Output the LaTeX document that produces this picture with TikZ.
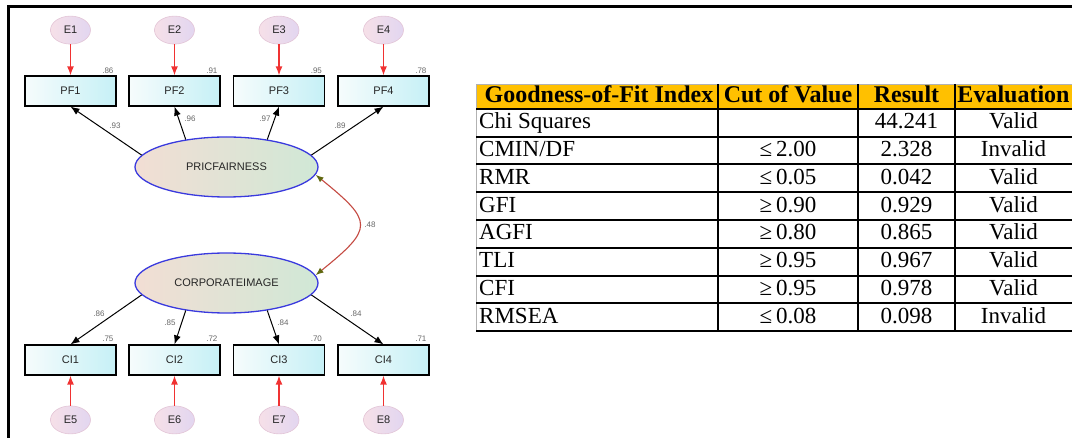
\documentclass[tikz,border=0pt]{standalone}
\usepackage{fontspec}
\usepackage{xcolor}
\usepackage{tikz}
\usetikzlibrary{shapes.geometric, arrows.meta, positioning}
\newfontfamily\semfont{Liberation Sans}
\newfontfamily\tabfont{Liberation Serif}
\definecolor{errleft}{RGB}{246,224,232}
\definecolor{errright}{RGB}{226,214,240}
\definecolor{errline}{RGB}{226,196,214}
\definecolor{obsleft}{RGB}{246,252,252}
\definecolor{obsright}{RGB}{198,240,246}
\definecolor{latleft}{RGB}{242,222,212}
\definecolor{latright}{RGB}{208,232,214}
\definecolor{latline}{RGB}{58,58,222}
\definecolor{errred}{RGB}{240,50,50}
\definecolor{covred}{RGB}{196,74,66}
\definecolor{covtip}{RGB}{96,104,16}
\definecolor{headfill}{RGB}{255,192,0}
\tikzset{
    errvar/.style={
        ellipse,
        draw=errline,
        line width=0.6pt,
        left color=errleft,
        right color=errright,
        minimum width=40pt,
        minimum height=28pt,
        inner sep=0pt,
        text=black!85,
        font=\semfont\fontsize{11}{13}\selectfont
    },
    observed/.style={
        rectangle,
        draw=black,
        line width=1.2pt,
        left color=obsleft,
        right color=obsright,
        minimum width=91pt,
        minimum height=30pt,
        inner sep=0pt,
        text=black!85,
        font=\semfont\fontsize{11}{13}\selectfont
    },
    latent/.style={
        ellipse,
        draw=latline,
        line width=1.3pt,
        left color=latleft,
        right color=latright,
        minimum width=183pt,
        minimum height=60pt,
        inner sep=0pt,
        text=black!85,
        font=\semfont\fontsize{11}{13}\selectfont
    },
    loading/.style={
        draw=black,
        line width=1pt,
        -{Latex[length=9pt,width=7pt]}
    },
    errpath/.style={
        draw=errred,
        line width=1.4pt,
        -{Latex[length=9pt,width=7pt]}
    },
    covpath/.style={
        draw=covred,
        line width=1.1pt,
        {Latex[length=8pt,width=6pt,color=covtip]}-{Latex[length=8pt,width=6pt,color=covtip]}
    },
    coef/.style={
        inner sep=0pt,
        text=black!60,
        font=\semfont\fontsize{8}{9}\selectfont
    },
    tabhead/.style={
        inner sep=0pt,
        anchor=base,
        font=\tabfont\bfseries\fontsize{24}{26}\selectfont
    },
    tabcell/.style={
        inner sep=0pt,
        anchor=base,
        font=\tabfont\fontsize{23}{26}\selectfont
    },
    gridline/.style={
        draw=black,
        line width=2pt
    }
}
\begin{document}
\begin{tikzpicture}[x=1pt, y=-1pt]
\useasboundingbox (0,0) rectangle (1072,438);

% Frame
\draw[line width=3pt] (8.5,438) -- (8.5,7) -- (1072,7);

% Price fairness indicators
\node[observed] (pf1) at (70.5,91) {PF1};
\node[observed] (pf2) at (174.5,91) {PF2};
\node[observed] (pf3) at (279,91) {PF3};
\node[observed] (pf4) at (383.5,91) {PF4};

\node[errvar, above=31pt of pf1] (e1) {E1};
\node[errvar, above=31pt of pf2] (e2) {E2};
\node[errvar, above=31pt of pf3] (e3) {E3};
\node[errvar, above=31pt of pf4] (e4) {E4};

\draw[errpath] (e1) -- (pf1);
\draw[errpath] (e2) -- (pf2);
\draw[errpath] (e3) -- (pf3);
\draw[errpath] (e4) -- (pf4);

\node[coef, above left=2pt and 3pt of pf1.north east] (rpf1) {.86};
\node[coef, above left=2pt and 3pt of pf2.north east] (rpf2) {.91};
\node[coef, above left=2pt and 3pt of pf3.north east] (rpf3) {.95};
\node[coef, above left=2pt and 3pt of pf4.north east] (rpf4) {.78};

% Latent variables
\node[latent] (pf) at (226.5,167) {PRICFAIRNESS};
\node[latent] (ci) at (226.5,283) {CORPORATEIMAGE};

\draw[loading] (pf.172) -- (pf1.south);
\draw[loading] (pf.146) -- (pf2.south);
\draw[loading] (pf.34) -- (pf3.south);
\draw[loading] (pf.8) -- (pf4.south);

\node[coef] (lpf1) at (115,126) {.93};
\node[coef] (lpf2) at (190,119) {.96};
\node[coef] (lpf3) at (265,119) {.97};
\node[coef] (lpf4) at (340,126) {.89};

% Covariance
\draw[covpath] (pf.355) .. controls +(58,47) and +(58,-47) .. (ci.5);
\node[coef] (cov) at (370,225) {.48};

% Corporate image indicators
\node[observed] (ci1) at (70.5,360) {CI1};
\node[observed] (ci2) at (174.5,360) {CI2};
\node[observed] (ci3) at (279,360) {CI3};
\node[observed] (ci4) at (383.5,360) {CI4};

\draw[loading] (ci.188) -- (ci1.north);
\draw[loading] (ci.214) -- (ci2.north);
\draw[loading] (ci.326) -- (ci3.north);
\draw[loading] (ci.352) -- (ci4.north);

\node[coef] (lci1) at (99,314) {.86};
\node[coef] (lci2) at (170,323) {.85};
\node[coef] (lci3) at (283,323) {.84};
\node[coef] (lci4) at (356,314) {.84};

\node[coef, above left=3pt and 3pt of ci1.north east] (rci1) {.75};
\node[coef, above left=3pt and 3pt of ci2.north east] (rci2) {.72};
\node[coef, above left=3pt and 3pt of ci3.north east] (rci3) {.70};
\node[coef, above left=3pt and 3pt of ci4.north east] (rci4) {.71};

\node[errvar, below=30pt of ci1] (e5) {E5};
\node[errvar, below=30pt of ci2] (e6) {E6};
\node[errvar, below=30pt of ci3] (e7) {E7};
\node[errvar, below=30pt of ci4] (e8) {E8};

\draw[errpath] (e5) -- (ci1);
\draw[errpath] (e6) -- (ci2);
\draw[errpath] (e7) -- (ci3);
\draw[errpath] (e8) -- (ci4);

% Fit table grid
\fill[headfill] (476,84) rectangle (1072,109);
\draw[draw=black!30, line width=0.8pt] (476,331.1) -- (476,84) -- (1072,84);
\draw[gridline, line width=2.6pt] (476,109) -- (1072,109);
\draw[gridline] (476,136.8) -- (1072,136.8) (476,164.5) -- (1072,164.5)
    (476,192.3) -- (1072,192.3) (476,220.0) -- (1072,220.0)
    (476,247.8) -- (1072,247.8) (476,275.6) -- (1072,275.6)
    (476,303.3) -- (1072,303.3) (476,331.1) -- (1072,331.1);
\draw[gridline, line width=2.6pt] (718,84) -- (718,331.1) (858,84) -- (858,331.1)
    (955,84) -- (955,331.1);

% Header
\node[tabhead] (h1) at (599,103) {Goodness-of-Fit Index};
\node[tabhead] (h2) at (788,103) {Cut of Value};
\node[tabhead] (h3) at (906.5,103) {Result};
\node[tabhead] (h4) at (1013.5,103) {Evaluation};

% Rows
\node[tabcell, anchor=base west] (r1c1) at (479,129) {Chi Squares};
\node[tabcell] (r1c3) at (906.5,129) {44.241};
\node[tabcell] (r1c4) at (1013.5,129) {Valid};

\node[tabcell, anchor=base west] (r2c1) at (479,156.7) {CMIN/DF};
\node[tabcell] (r2c2) at (788,156.7) {≤\,2.00};
\node[tabcell] (r2c3) at (906.5,156.7) {2.328};
\node[tabcell] (r2c4) at (1013.5,156.7) {Invalid};

\node[tabcell, anchor=base west] (r3c1) at (479,184.5) {RMR};
\node[tabcell] (r3c2) at (788,184.5) {≤\,0.05};
\node[tabcell] (r3c3) at (906.5,184.5) {0.042};
\node[tabcell] (r3c4) at (1013.5,184.5) {Valid};

\node[tabcell, anchor=base west] (r4c1) at (479,212.2) {GFI};
\node[tabcell] (r4c2) at (788,212.2) {≥\,0.90};
\node[tabcell] (r4c3) at (906.5,212.2) {0.929};
\node[tabcell] (r4c4) at (1013.5,212.2) {Valid};

\node[tabcell, anchor=base west] (r5c1) at (479,240) {AGFI};
\node[tabcell] (r5c2) at (788,240) {≥\,0.80};
\node[tabcell] (r5c3) at (906.5,240) {0.865};
\node[tabcell] (r5c4) at (1013.5,240) {Valid};

\node[tabcell, anchor=base west] (r6c1) at (479,267.8) {TLI};
\node[tabcell] (r6c2) at (788,267.8) {≥\,0.95};
\node[tabcell] (r6c3) at (906.5,267.8) {0.967};
\node[tabcell] (r6c4) at (1013.5,267.8) {Valid};

\node[tabcell, anchor=base west] (r7c1) at (479,295.5) {CFI};
\node[tabcell] (r7c2) at (788,295.5) {≥\,0.95};
\node[tabcell] (r7c3) at (906.5,295.5) {0.978};
\node[tabcell] (r7c4) at (1013.5,295.5) {Valid};

\node[tabcell, anchor=base west] (r8c1) at (479,323.3) {RMSEA};
\node[tabcell] (r8c2) at (788,323.3) {≤\,0.08};
\node[tabcell] (r8c3) at (906.5,323.3) {0.098};
\node[tabcell] (r8c4) at (1013.5,323.3) {Invalid};

\end{tikzpicture}
\end{document}
